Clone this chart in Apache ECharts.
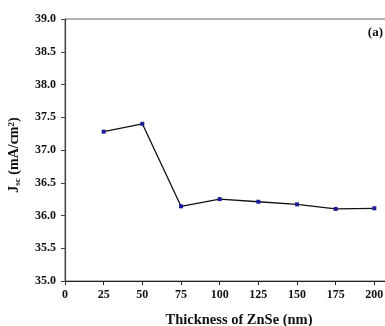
<!DOCTYPE html>
<html>
<head>
<meta charset="utf-8">
<script src="https://cdn.jsdelivr.net/npm/echarts@6/dist/echarts.min.js"></script>
<style>
  html, body { margin: 0; padding: 0; background: #fff; }
  #chart { width: 385px; height: 326px; }
</style>
</head>
<body>
<div id="chart"></div>
<script>
// thickness (nm) and short-circuit current density
var thickness = [25, 50, 75, 100, 125, 150, 175, 200];
var jsc = [37.28, 37.40, 36.14, 36.25, 36.21, 36.17, 36.10, 36.11];

var serif = '"Liberation Serif", "Times New Roman", serif';

var chart = echarts.init(document.getElementById('chart'));
var option = {
    animation: false,
    backgroundColor: '#fff',
    grid: {
        left: 65,
        top: 19,
        width: 348,
        height: 262,
        outerBoundsMode: 'none',
        containLabel: false,
        show: true,
        borderColor: '#666',
        borderWidth: 1
    },
    graphic: [{
        type: 'text',
        right: 2,
        top: 26,
        style: { text: '(a)', font: 'bold 13px ' + serif, fill: '#111' }
    }],
    xAxis: {
        type: 'value',
        min: 0,
        max: 225,
        interval: 25,
        name: 'Thickness of ZnSe (nm)',
        nameLocation: 'middle',
        nameGap: 32,
        nameTextStyle: { fontFamily: serif, fontWeight: 'bold', fontSize: 14.5, color: '#111' },
        axisLine: { lineStyle: { color: '#222', width: 1.2 } },
        axisTick: { inside: false, length: 4, lineStyle: { color: '#222' } },
        axisLabel: {
            fontFamily: serif, fontWeight: 'bold', fontSize: 12, color: '#111', margin: 8,
            formatter: function (v) { return v <= 200 ? String(v) : ''; }
        },
        splitLine: { show: false }
    },
    yAxis: {
        type: 'value',
        min: 35,
        max: 39,
        interval: 0.5,
        name: 'J{sub|sc} (mA/cm{sup|2})',
        nameLocation: 'middle',
        nameRotate: 90,
        nameGap: 43,
        nameTextStyle: {
            fontFamily: serif, fontWeight: 'bold', fontSize: 14, color: '#111',
            padding: [0, 10, 0, 0],
            rich: {
                sub: { fontFamily: serif, fontWeight: 'bold', fontSize: 9, color: '#111', verticalAlign: 'bottom', padding: [6, 0, 0, 0] },
                sup: { fontFamily: serif, fontWeight: 'bold', fontSize: 9, color: '#111', verticalAlign: 'top', padding: [0, 0, 6, 0] }
            }
        },
        axisLine: { show: true, lineStyle: { color: '#444', width: 1.2 } },
        axisTick: { show: true, inside: false, length: 4, lineStyle: { color: '#444' } },
        axisLabel: {
            fontFamily: serif, fontWeight: 'bold', fontSize: 12, color: '#111', margin: 9,
            formatter: function (v) { return v.toFixed(1); }
        },
        splitLine: { show: false }
    },
    series: [{
        type: 'line',
        data: thickness.map(function (t, i) { return [t, jsc[i]]; }),
        symbol: 'rect',
        symbolSize: 4,
        itemStyle: { color: '#1c1c9a' },
        lineStyle: { color: '#111', width: 1.3 }
    }]
};
chart.setOption(option);
</script>
</body>
</html>
